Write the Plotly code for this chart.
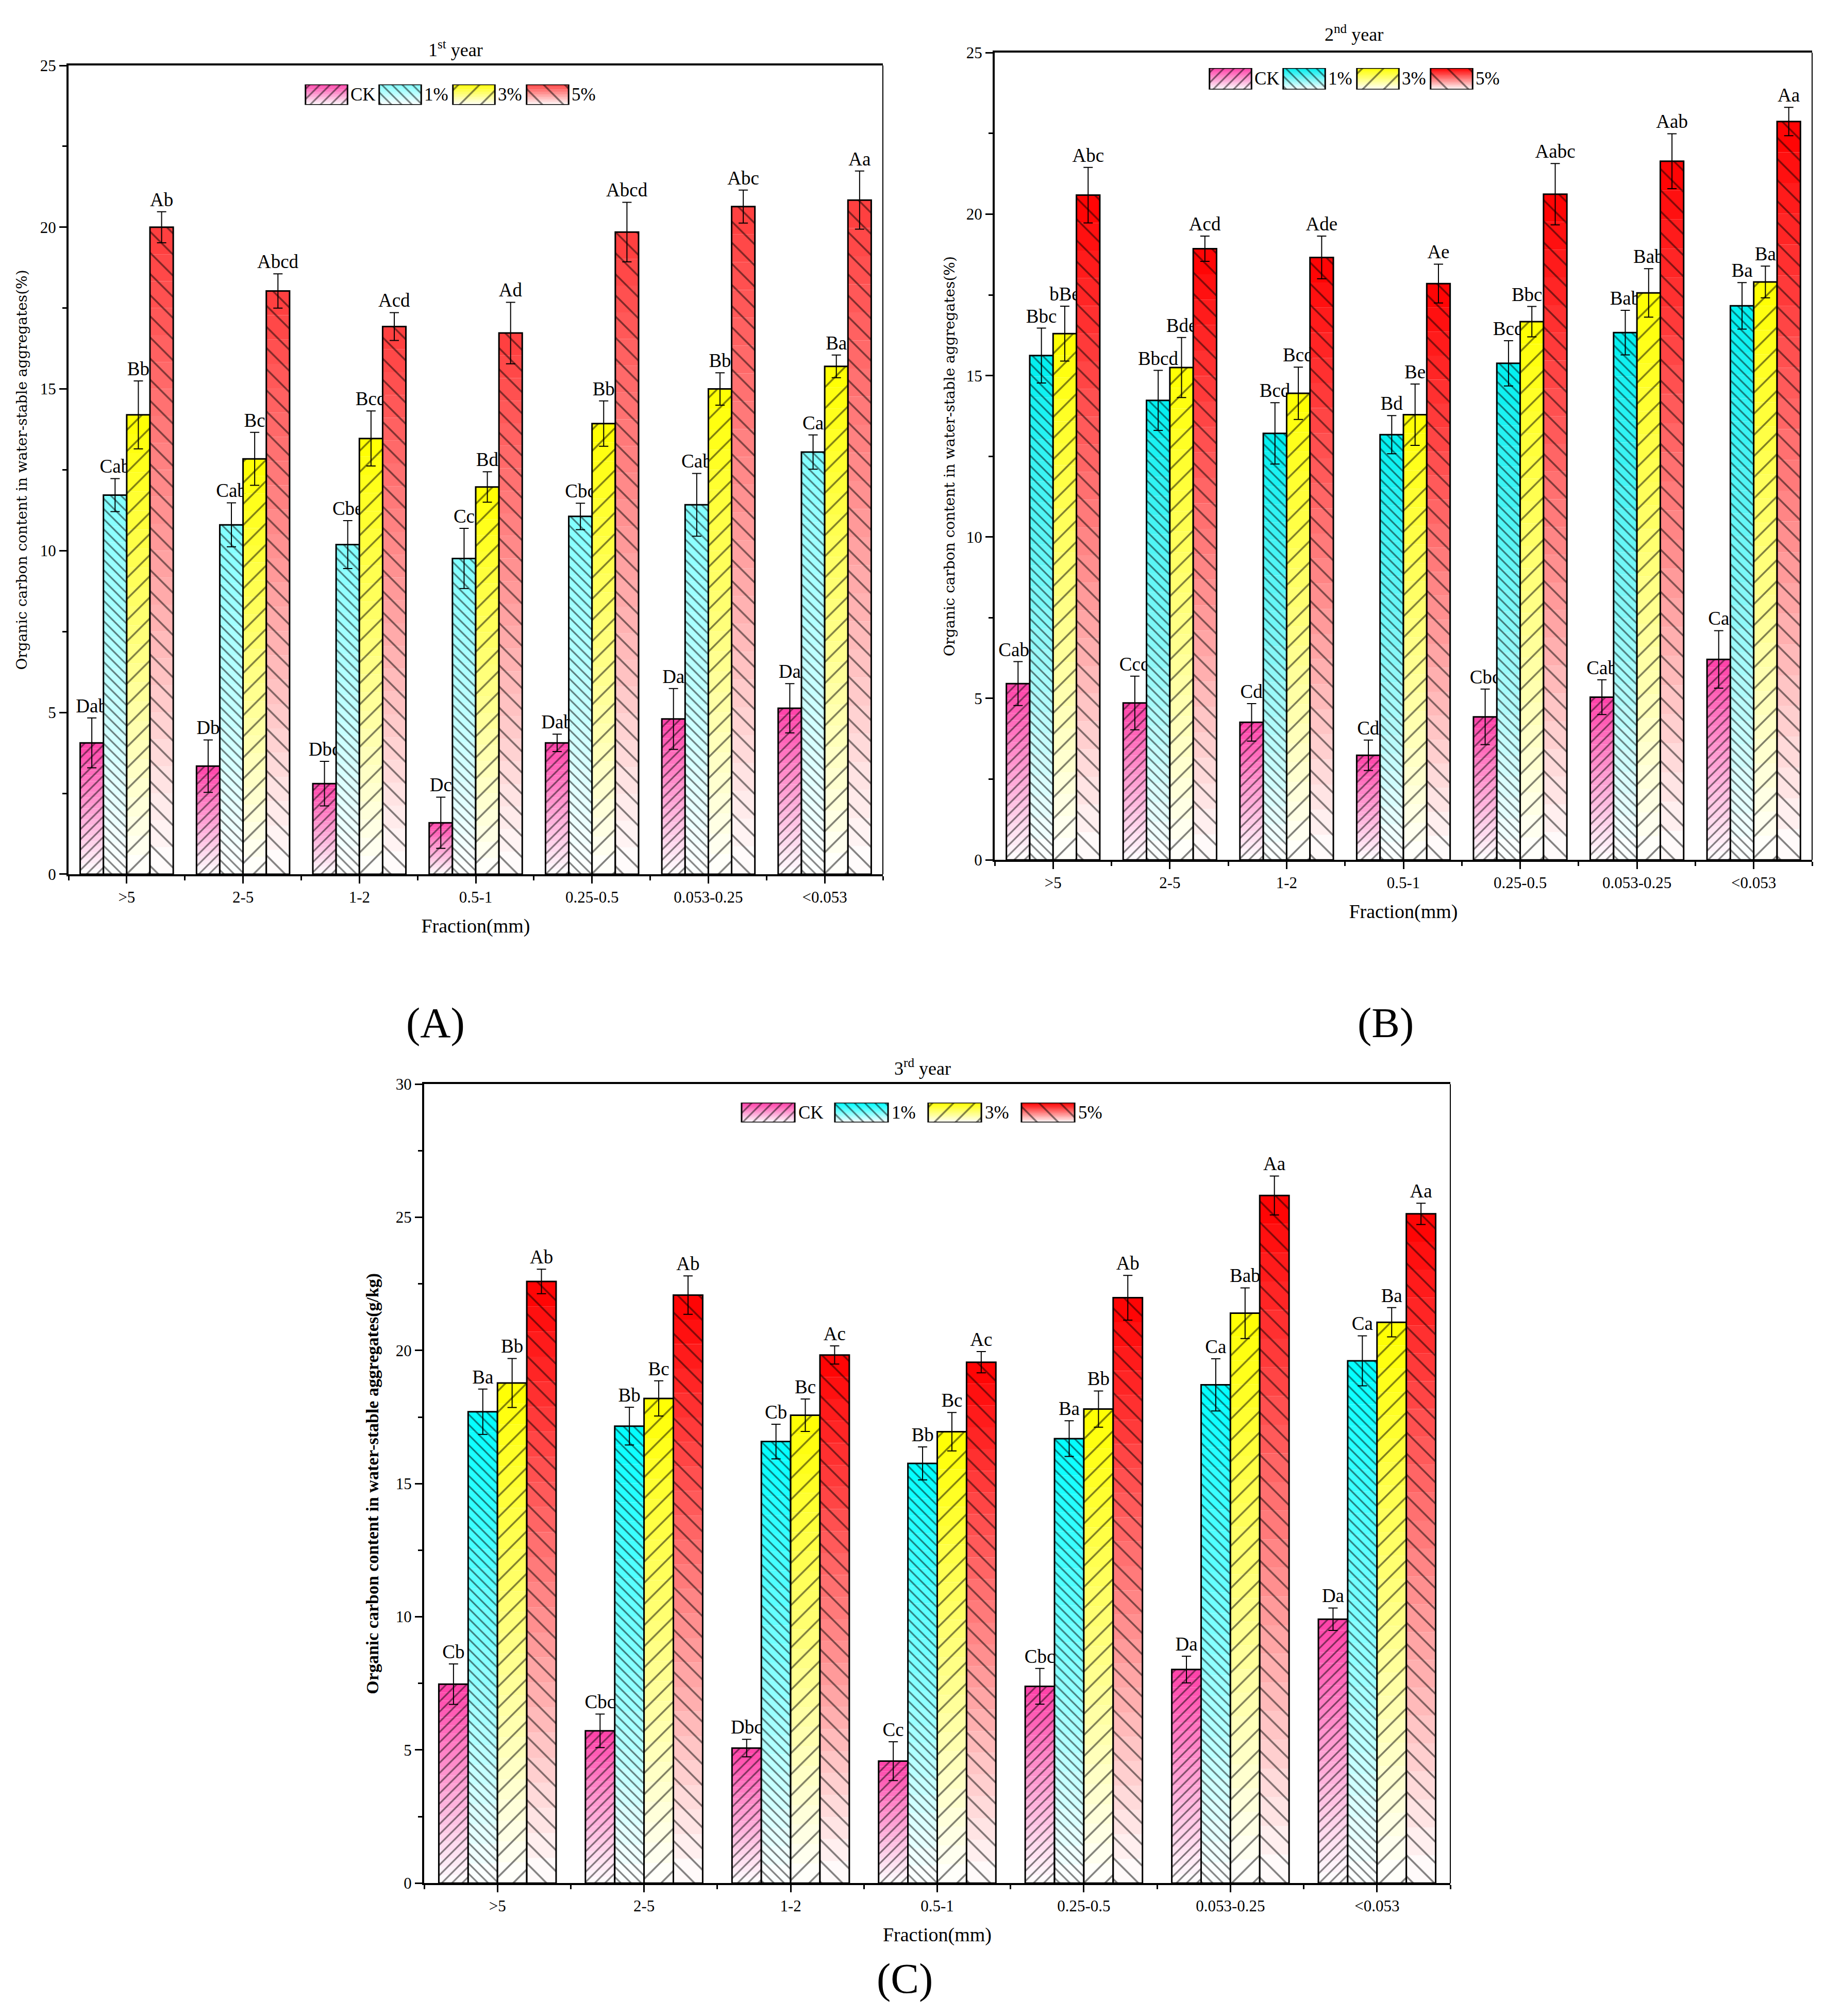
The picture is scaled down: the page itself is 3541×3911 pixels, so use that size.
import plotly.graph_objects as go

# ---- data ----
categories = ['>5', '2-5', '1-2', '0.5-1', '0.25-0.5', '0.053-0.25', '<0.053']
series_names = ['CK', '1%', '3%', '5%']

# 1st year (%)
ck_y1 = [4.06, 3.34, 2.80, 1.59, 4.06, 4.80, 5.13]
ck_y1_err = [0.77, 0.81, 0.69, 0.79, 0.27, 0.94, 0.76]
ck_y1_lab = ['Dab', 'Db', 'Dbc', 'Dc', 'Dab', 'Da', 'Da']
p1_y1 = [11.72, 10.80, 10.19, 9.76, 11.06, 11.42, 13.05]
p1_y1_err = [0.51, 0.68, 0.74, 0.93, 0.41, 0.97, 0.53]
p1_y1_lab = ['Cab', 'Cab', 'Cbe', 'Cc', 'Cbc', 'Cab', 'Ca']
p3_y1 = [14.20, 12.84, 13.47, 11.97, 13.93, 15.00, 15.70]
p3_y1_err = [1.05, 0.82, 0.85, 0.47, 0.70, 0.50, 0.35]
p3_y1_lab = ['Bb', 'Bc', 'Bcd', 'Bd', 'Bb', 'Bb', 'Ba']
p5_y1 = [20.00, 18.03, 16.93, 16.73, 19.85, 20.64, 20.84]
p5_y1_err = [0.48, 0.53, 0.43, 0.95, 0.92, 0.51, 0.90]
p5_y1_lab = ['Ab', 'Abcd', 'Acd', 'Ad', 'Abcd', 'Abc', 'Aa']

# 2nd year (%)
ck_y2 = [5.46, 4.86, 4.26, 3.24, 4.43, 5.04, 6.21]
ck_y2_err = [0.68, 0.83, 0.58, 0.47, 0.86, 0.54, 0.89]
ck_y2_lab = ['Cabc', 'Ccd', 'Cd', 'Cd', 'Cbc', 'Cab', 'Ca']
p1_y2 = [15.62, 14.23, 13.21, 13.17, 15.38, 16.33, 17.16]
p1_y2_err = [0.85, 0.93, 0.95, 0.59, 0.70, 0.69, 0.72]
p1_y2_lab = ['Bbc', 'Bbcd', 'Bcd', 'Bd', 'Bcd', 'Bab', 'Ba']
p3_y2 = [16.30, 15.25, 14.45, 13.79, 16.67, 17.56, 17.90]
p3_y2_err = [0.85, 0.93, 0.81, 0.95, 0.47, 0.75, 0.49]
p3_y2_lab = ['bBe', 'Bde', 'Bcd', 'Be', 'Bbcd', 'Bab', 'Ba']
p5_y2 = [20.59, 18.93, 18.66, 17.85, 20.62, 21.64, 22.87]
p5_y2_err = [0.86, 0.39, 0.66, 0.60, 0.95, 0.85, 0.44]
p5_y2_lab = ['Abc', 'Acd', 'Ade', 'Ae', 'Aabc', 'Aab', 'Aa']

# 3rd year (g/kg)
ck_y3 = [7.47, 5.72, 5.07, 4.58, 7.39, 8.02, 9.91]
ck_y3_err = [0.76, 0.63, 0.33, 0.73, 0.67, 0.50, 0.42]
ck_y3_lab = ['Cb', 'Cbc', 'Dbc', 'Cc', 'Cbc', 'Da', 'Da']
p1_y3 = [17.70, 17.16, 16.58, 15.76, 16.69, 18.71, 19.61]
p1_y3_err = [0.85, 0.71, 0.65, 0.62, 0.67, 0.98, 0.94]
p1_y3_lab = ['Ba', 'Bb', 'Cb', 'Bb', 'Ba', 'Ca', 'Ca']
p3_y3 = [18.78, 18.20, 17.57, 16.95, 17.80, 21.40, 21.06]
p3_y3_err = [0.92, 0.66, 0.61, 0.72, 0.68, 0.95, 0.55]
p3_y3_lab = ['Bb', 'Bc', 'Bc', 'Bc', 'Bb', 'Bab', 'Ba']
p5_y3 = [22.59, 22.08, 19.83, 19.56, 21.98, 25.82, 25.13]
p5_y3_err = [0.46, 0.72, 0.34, 0.40, 0.84, 0.73, 0.40]
p5_y3_lab = ['Ab', 'Ab', 'Ac', 'Ac', 'Ab', 'Aa', 'Aa']

# ---- styling ----
W, H = 3541, 3911
SERIF = 'Liberation Serif, Times New Roman, serif'
N_SEG = 24                      # gradient steps per bar
hatch_shape = ['/', '\\', '/', '\\']
hatch_size = [14, 14, 29, 29]
hatch_solid = [0.22, 0.22, 0.12, 0.12]


def fx(p):
    return p / W


def fy(p):
    return 1 - p / H


def mix(hex_color, t):
    """blend from white (t=0) to hex_color (t=1)"""
    h = hex_color.lstrip('#')
    r, g, b = (int(h[i:i + 2], 16) for i in (0, 2, 4))
    r = round(255 + (r - 255) * t)
    g = round(255 + (g - 255) * t)
    b = round(255 + (b - 255) * t)
    return f'rgb({r},{g},{b})'


panels = [
    dict(idx='', data=[(ck_y1, ck_y1_err, ck_y1_lab), (p1_y1, p1_y1_err, p1_y1_lab),
                       (p3_y1, p3_y1_err, p3_y1_lab), (p5_y1, p5_y1_err, p5_y1_lab)],
         colors=['#ff40a8', '#80ffff', '#ffff00', '#ff3c3c'],
         xdom=[fx(125), fx(1705)], ydom=[fy(1686), fy(103)], yrange=[0, 25],
         title='1<sup>st</sup> year', title_xy=(876, 70),
         ytitle='Organic carbon content in water-stable aggregates(%)',
         ytitle_font=dict(family='DejaVu Serif', size=28), ystand=18,
         tag='(A)', tag_xy=(837, 1977),
         leg_idx='4', leg_x=[554, 1126], leg_y=[140, 180]),
    dict(idx='2', data=[(ck_y2, ck_y2_err, ck_y2_lab), (p1_y2, p1_y2_err, p1_y2_lab),
                        (p3_y2, p3_y2_err, p3_y2_lab), (p5_y2, p5_y2_err, p5_y2_lab)],
         colors=['#ff40a8', '#00f0f0', '#ffff00', '#ff0000'],
         xdom=[fx(1922), fx(3508)], ydom=[fy(1658), fy(78)], yrange=[0, 25],
         title='2<sup>nd</sup> year', title_xy=(2619, 40),
         ytitle='Organic carbon content in water-stable aggregates(%)',
         ytitle_font=dict(family='DejaVu Serif', size=28), ystand=15,
         tag='(B)', tag_xy=(2680, 1977),
         leg_idx='5', leg_x=[2308, 2880], leg_y=[108, 150]),
    dict(idx='3', data=[(ck_y3, ck_y3_err, ck_y3_lab), (p1_y3, p1_y3_err, p1_y3_lab),
                        (p3_y3, p3_y3_err, p3_y3_lab), (p5_y3, p5_y3_err, p5_y3_lab)],
         colors=['#ff40a8', '#00ffff', '#ffff00', '#ff0000'],
         xdom=[fx(815), fx(2806)], ydom=[fy(3661), fy(2097)], yrange=[0, 30],
         title='3<sup>rd</sup> year', title_xy=(1782, 2064),
         ytitle='<b>Organic carbon content in water-stable aggregates(g/kg)</b>',
         ytitle_font=dict(family=SERIF, size=34), ystand=24,
         tag='(C)', tag_xy=(1747, 3848),
         leg_idx='6', leg_x=[1392, 2116], leg_y=[2133, 2172]),
]

fig = go.Figure()
annotations = []
shapes = []
layout_axes = {}
xpos = list(range(len(categories)))


def note(text, xy, size, family=SERIF):
    return dict(text=text, x=fx(xy[0]), y=fy(xy[1]), xref='paper', yref='paper',
                xanchor='center', yanchor='middle', showarrow=False,
                font=dict(family=family, size=size, color='black'))


for p in panels:
    xa, ya = 'x' + p['idx'], 'y' + p['idx']
    for s, (vals, errs, labs) in enumerate(p['data']):
        group = f'{ya}_{s}'
        # vertical gradient built from stacked slices of each bar
        for k in range(N_SEG):
            fig.add_trace(go.Bar(
                x=xpos, y=[v / N_SEG for v in vals], base=[v * k / N_SEG for v in vals],
                marker=dict(color=mix(p['colors'][s], (k + 0.5) / N_SEG), line=dict(width=0)),
                offsetgroup=group, xaxis=xa, yaxis=ya, showlegend=False, hoverinfo='skip'))
        # hatch, outline and error bars
        fig.add_trace(go.Bar(
            x=xpos, y=vals, name=series_names[s],
            marker=dict(color='rgba(0,0,0,0)', line=dict(color='black', width=3),
                        pattern=dict(shape=hatch_shape[s], size=hatch_size[s],
                                     solidity=hatch_solid[s], fgcolor='black',
                                     bgcolor='rgba(0,0,0,0)')),
            error_y=dict(type='data', array=errs, color='black', thickness=2, width=9),
            offsetgroup=group, xaxis=xa, yaxis=ya, showlegend=False))
        # significance letters above the error bars
        fig.add_trace(go.Bar(
            x=xpos, y=[0.001] * len(vals), base=[v + e for v, e in zip(vals, errs)],
            text=labs, textposition='outside', textangle=0, constraintext='none',
            cliponaxis=False, textfont=dict(family=SERIF, size=37, color='black'),
            marker=dict(color='rgba(0,0,0,0)', line=dict(width=0)),
            offsetgroup=group, xaxis=xa, yaxis=ya, showlegend=False, hoverinfo='skip'))

    layout_axes['xaxis' + p['idx']] = dict(
        domain=p['xdom'], anchor=ya, range=[-0.5, len(categories) - 0.5],
        tickmode='array', tickvals=xpos, ticktext=categories,
        ticks='outside', ticklen=14, tickwidth=3, tickcolor='black',
        showline=True, linewidth=4, linecolor='black', mirror=True,
        showgrid=False, zeroline=False, tickfont=dict(family=SERIF, size=31),
        title=dict(text='Fraction(mm)', standoff=26,
                   font=dict(family=SERIF, size=38, color='black')),
        minor=dict(tickmode='linear', tick0=-0.5, dtick=1, ticks='outside', ticklen=8,
                   tickwidth=3, tickcolor='black', showgrid=False))
    layout_axes['yaxis' + p['idx']] = dict(
        domain=p['ydom'], anchor=xa, range=p['yrange'], dtick=5,
        ticks='outside', ticklen=14, tickwidth=3, tickcolor='black',
        showline=True, linewidth=4, linecolor='black',
        showgrid=False, zeroline=False, tickfont=dict(family=SERIF, size=31),
        title=dict(text=p['ytitle'], standoff=p['ystand'],
                   font=dict(p['ytitle_font'], color='black')),
        minor=dict(dtick=2.5, ticks='outside', ticklen=8, tickwidth=3,
                   tickcolor='black', showgrid=False))
    # thin right frame line
    shapes.append(dict(type='line', xref=xa + ' domain', yref=ya + ' domain',
                       x0=1, x1=1, y0=0, y1=1, line=dict(color='black', width=2)))

    annotations += [
        note(p['title'], p['title_xy'], 36),
        note(p['tag'], p['tag_xy'], 82),
    ]

    # legend drawn as a small inset row of swatches
    lxa, lya = 'x' + p['leg_idx'], 'y' + p['leg_idx']
    lx = list(range(len(series_names)))
    for k in range(N_SEG):
        fig.add_trace(go.Bar(
            x=lx, y=[1 / N_SEG] * len(lx), base=[k / N_SEG] * len(lx), width=0.57,
            marker=dict(color=[mix(c, (k + 0.5) / N_SEG) for c in p['colors']], line=dict(width=0)),
            offsetgroup='leg', xaxis=lxa, yaxis=lya, showlegend=False, hoverinfo='skip'))
    fig.add_trace(go.Bar(
        x=lx, y=[1] * len(lx), width=0.57,
        marker=dict(color='rgba(0,0,0,0)', line=dict(color='black', width=3),
                    pattern=dict(shape=hatch_shape, size=hatch_size, solidity=hatch_solid,
                                 fgcolor='black', bgcolor='rgba(0,0,0,0)')),
        offsetgroup='leg', xaxis=lxa, yaxis=lya, showlegend=False, hoverinfo='skip'))
    layout_axes['xaxis' + p['leg_idx']] = dict(
        domain=[fx(p['leg_x'][0]), fx(p['leg_x'][1])], anchor=lya,
        range=[-0.5, len(lx) - 0.5], visible=False)
    layout_axes['yaxis' + p['leg_idx']] = dict(
        domain=[fy(p['leg_y'][1]), fy(p['leg_y'][0])], anchor=lxa,
        range=[0, 1], visible=False)
    for i, name in enumerate(series_names):
        annotations.append(dict(text=name, x=i + 0.31, y=0.5, xref=lxa, yref=lya,
                                xanchor='left', yanchor='middle', showarrow=False,
                                font=dict(family=SERIF, size=35, color='black')))

fig.update_layout(
    width=W, height=H, margin=dict(l=0, r=0, t=0, b=0),
    paper_bgcolor='white', plot_bgcolor='rgba(0,0,0,0)',
    barmode='group', bargap=0.2, bargroupgap=0, showlegend=False,
    font=dict(family=SERIF, color='black'),
    annotations=annotations, shapes=shapes, **layout_axes)

fig.write_html('out.html')
